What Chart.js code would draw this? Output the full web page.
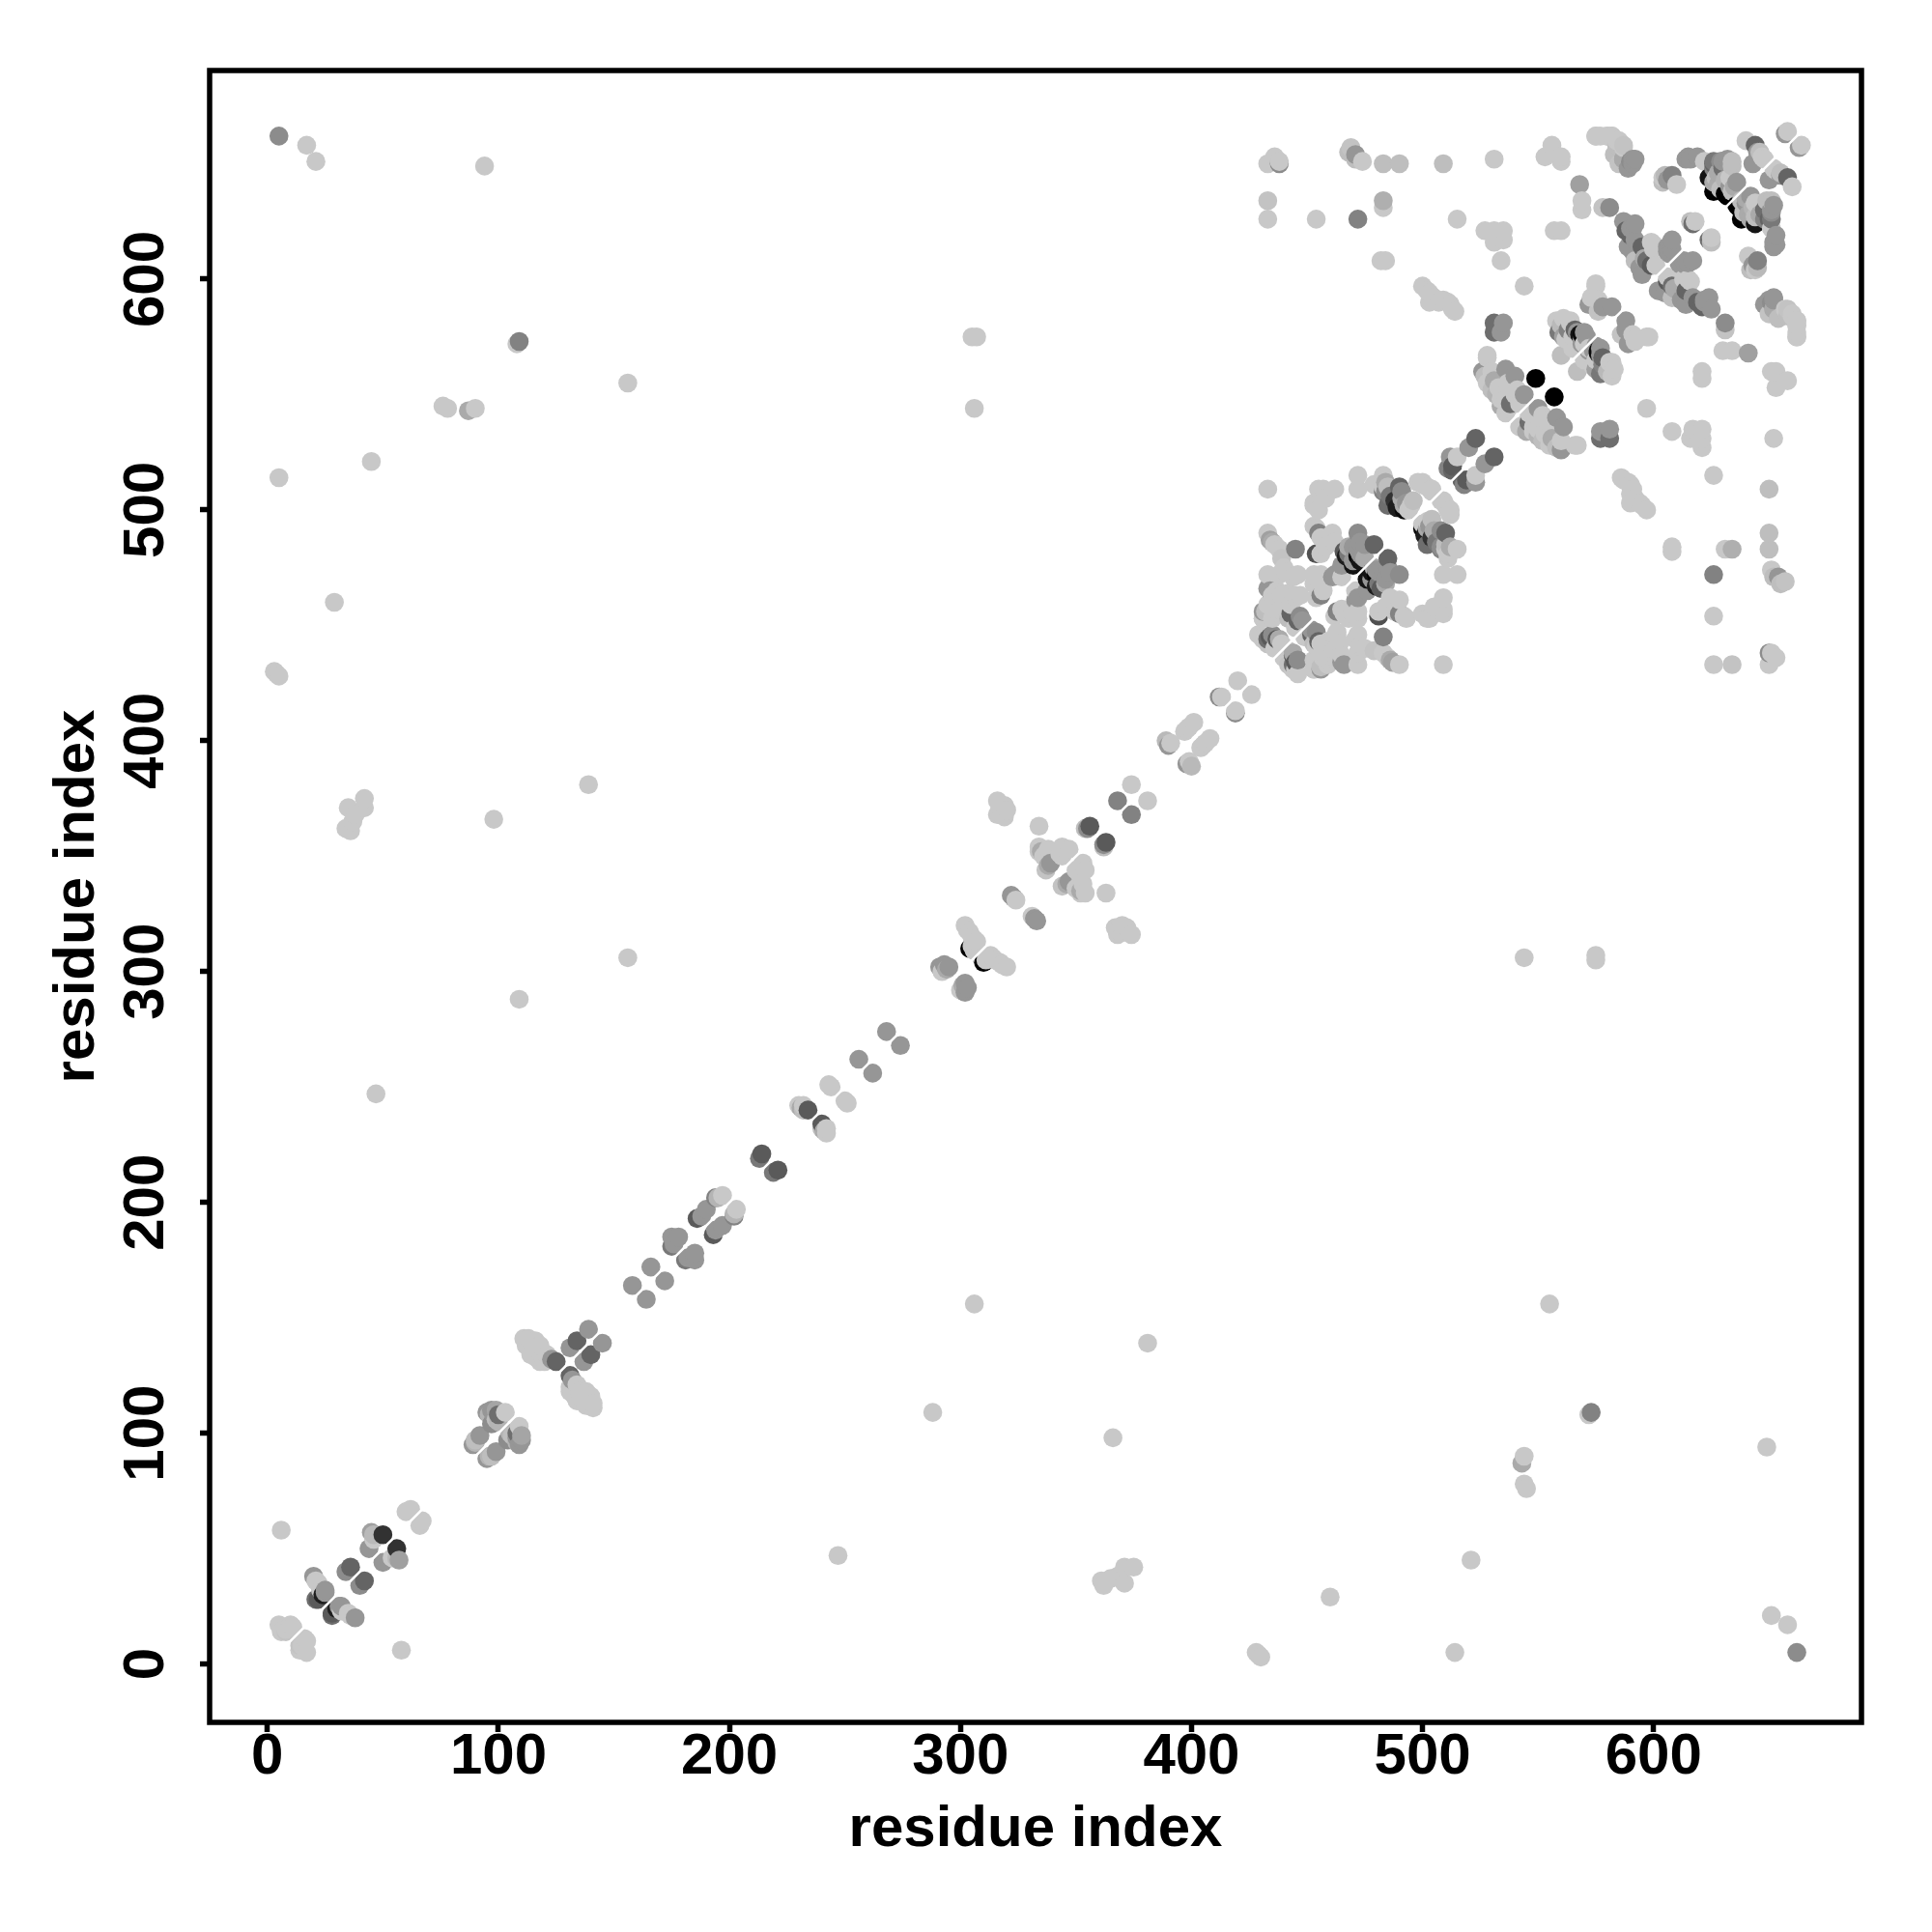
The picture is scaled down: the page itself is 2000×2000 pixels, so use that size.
<!DOCTYPE html>
<html>
<head>
<meta charset="utf-8">
<title>residue contact map</title>
<script src="https://cdn.jsdelivr.net/npm/chart.js@4"></script>
<style>
  html, body { margin: 0; padding: 0; background: #fff; }
  #map-wrap { width: 2000px; height: 2000px; }
</style>
</head>
<body>
<div id="map-wrap"><canvas id="map" width="2000" height="2000"></canvas></div>
<script>
// Contacts, as [residue i, residue j, grey level], i < j.
// The map is symmetric, so only one triangle is listed.
const tickValues = [0, 100, 200, 300, 400, 500, 600];
const axisTitle = 'residue index';

const helixStart = [[5,17,200],[6,14,200],[8,14,195],[11,16,200],[10,17,200],[8,15,200],
  [20,38,150],[21,36,200],[22,35,200],[23,32,200],[21,28,110],[22,28,90],[24,30,30],[25,31,150],[25,32,150],
  [34,40,140],[36,42,100],[44,50,150],[45,57,160],[46,54,200],[46,56,185],[50,56,50],[60,66,200],[62,67,200]];
const helixB = [[89,95,150],[90,96,180],[90,97,190],[92,99,150],[95,109,150],[96,108,180],[97,110,150],[97,104,140],
  [99,106,190],[98,108,150],[99,110,165],[100,105,180],[100,108,110],[103,109,200]];
const helixC = [[111,141,200],[113,141,200],[112,138,200],[116,140,200],[118,138,200],[115,136,200],[114,134,200],
  [116,133,200],[118,135,200],[118,131,200],[120,131,200],[121,134,200],[123,132,150],[125,131,100],
  [131,137,150],[134,140,100],[139,145,150]];
const helixD = [[158,164,150],[166,172,150],[175,181,120],[175,185,150],[176,182,150],[178,185,150],
  [186,193,90],[188,194,150],[190,197,150],[194,202,130],[195,202,180],[197,203,200],
  [213,219,120],[214,221,90],[230,242,200],[231,241,170],[232,240,190],[232,242,200],[234,240,90],
  [244,250,200],[243,251,200],[256,262,150],[268,274,150]];
const helixE = [[291,302,150],[292,300,200],[293,303,150],[294,301,170],[295,302,150],
  [304,310,0],[305,311,200],[306,309,200],[302,320,200],[303,318,200],[304,317,200],[305,315,200],[306,314,200],[307,313,200],
  [322,333,150],[323,332,150],[324,331,200]];
const helixF = [[334,363,200],[334,354,200],[334,352,200],[335,352,170],[336,350,200],[337,351,200],[337,344,195],
  [338,346,170],[338,353,200],[339,347,150],[343,351,200],[344,350,200],[344,354,200],[347,353,200],
  [354,362,190],[355,362,140],[356,363,90],[368,374,130],[374,381,200],
  [389,400,185],[390,398,150],[391,399,200],[397,404,200],[398,405,200],[399,406,200],[401,408,200],
  [412,419,140],[413,419,200],[420,426,200]];
const sideBlock = [[316,374,200],[319,372,200],[316,368,200],[319,367,200],[317,370,200],[320,370,200],[318,368,200]];

const domainLow = [[429,446,200],[431,444,200],[431,453,200],[433,444,110],[434,445,90],[438,444,170],
  [431,456,150],[433,459,200],[433,466,150],[435,463,200],[435,453,200],[436,457,200],[438,461,200],[440,455,200],
  [441,462,200],[445,463,200],[442,453,190],[443,455,100],[447,454,140],
  [433,472,200],[438,472,200],[441,473,200],[440,475,200],[444,471,200],[446,472,200],
  [437,458,200],[439,459,200],[441,457,200],[443,459,200],[438,455,200],[435,459,200],[445,462,200],[447,463,200],
  [440,460,200],[437,465,200],[439,463,200]];
const domainLowB = [[431,453,200],[432,456,190],[434,465,150],[436,461,200],[442,456,200],[442,461,200],[442,464,200]];
const domainCore = [[436,440,200],[433,442,195],[431,445,200],[437,444,90],[435,446,140],[439,442,200],
  [445,449,200],[446,452,100],[448,452,150],[441,454,200]];
const domainRows = [[433,490,200],[434,487,160],[435,486,170],[436,485,200],[438,483,200],[439,479,195],[445,483,130],
  [453,493,200],[455,490,130],[454,492,200],[454,481,80],[456,481,200],[456,488,200],[458,484,200],[461,490,200],[462,486,200],
  [453,472,200],[456,472,200],[455,470,200],[453,468,200],[455,466,200],[457,465,200],[454,462,200],[456,463,130],
  [461,471,150],[462,472,150],[465,471,200],[465,476,150]];
const domainTop = [[433,509,200],[455,509,200],[457,509,200],[462,509,200],[472,509,200],[472,515,200],[453,503,200],
  [455,500,200],[458,505,200],[453,502,200]];
const domainNear = [[466,482,90],[467,480,30],[468,481,120],[468,484,170],[470,484,150],[470,478,150],[470,476,20],
  [472,480,0],[472,490,140],[472,483,150],[473,486,150],[473,481,150],[473,478,20],[474,480,150],[475,479,170],[475,485,150],[479,485,100]];
const strandPair = [[483,515,200],[481,511,200],[479,511,200],[484,512,170],[485,510,190],[483,510,200],[483,508,130],
  [484,508,140],[486,506,120],[485,502,110],[488,504,50],[489,501,30],[490,510,100],[491,508,140],[491,505,170],
  [492,500,10],[492,502,170],[493,503,150],[494,500,200],[495,502,200],[496,504,190],
  [498,512,200],[500,511,200],[500,512,200],[502,510,200],[504,509,200],[504,508,200]];
const hairpin = [[511,518,130],[512,523,150],[513,519,90],[513,517,100],[515,523,200],[520,527,150],[523,531,100]];

const siteG = [[526,560,150],[527,558,190],[528,555,200],[528,567,200],[530,552,190],[530,560,200],[531,556,170],
  [532,550,180],[533,553,200],[534,548,200],[534,545,170],[535,550,200],[536,561,150],[536,548,200],[536,542,200],
  [537,544,200],[537,555,200],[538,546,110],[539,554,200],[540,558,150],[540,550,200],[541,552,200],[542,546,200],
  [544,550,150],[549,557,0]];
const siteH = [[558,582,200],[559,577,120],[560,580,185],[560,567,190],[561,583,200],[561,575,160],[562,574,200],
  [564,582,200],[564,581,200],[563,578,130],[565,575,200],[565,570,200],[566,578,100],[567,577,150],[568,576,20],
  [568,572,200],[569,574,150],[569,576,10],[569,572,150],[570,572,200],[570,577,150],[571,575,150]];
const siteI = [[572,589,150],[573,592,200],[574,592,200],[575,598,200],[575,597,200],[576,591,200],[576,586,195],
  [578,588,150],[582,588,150]];
const strandJ = [[587,625,150],[588,621,100],[589,614,150],[590,622,150],[590,619,100],[591,622,150],[591,612,150],
  [592,624,150],[592,617,150],[592,608,190],[594,605,150],[595,602,150],[595,614,100],[596,609,170],[597,608,110],
  [599,606,90],[600,613,200],[599,616,200],[600,615,200],[601,606,200],
  [606,612,150],[606,614,150],[607,615,150],[608,617,150],[607,611,150],[608,613,150],
  [616,625,190],[617,624,110],[618,625,200]];
const strandK = [[604,644,200],[604,642,190],[605,645,185],[606,643,150],[608,645,130],[610,641,200]];
const cornerL = [[614,652,150],[615,653,150],[616,652,150],[619,653,150],[622,651,200],[624,644,20],[626,642,170],[626,651,120],
  [626,650,100],[626,648,130],[626,638,0],[627,644,190],[628,646,170],[628,641,170],[629,651,140],[629,639,190],[630,651,150],[630,648,110],
  [631,637,0],[631,643,180],[632,636,0],[632,652,150],[633,644,200],[633,640,150],[634,651,190],[634,649,190],[634,638,190],[635,640,170],[636,642,150]];
const cornerM = [[640,660,200],[643,650,150],[644,658,100],[645,655,150],[646,655,190],[647,653,200],[648,652,200],[657,663,150],[658,664,200]];

const farPairs = [[5,662,140],[17,658,200],[21,651,200],[94,649,200],[108,572,200],[109,573,130],[305,575,200],[307,575,200],
  [306,544,200],[156,555,200],[76,545,200],[78,544,200],[87,543,170],[90,544,200],[5,514,200],[45,521,200],[29,460,200],
  [3,430,200],[4,429,200],[5,428,200],[34,362,200],[36,361,200],[35,371,200],[38,368,200],[42,375,200],[42,371,200],[37,365,200],
  [139,381,200],[98,366,200],[156,306,200],[109,288,200],[47,247,200],[6,58,200]];
const offDomain = [[433,650,200],[436,653,200],[438,651,200],[438,650,140],[469,657,195],[468,655,190],[471,654,150],[471,652,190],
  [474,651,200],[483,650,190],[490,650,190],[509,650,190],[531,652,200],[433,634,195],[433,626,200],[454,626,200],[472,626,130],
  [483,634,175],[483,631,200],[515,626,200],[482,608,200],[484,608,200],[527,621,200],[531,621,200],[535,621,200],[531,616,200],
  [535,617,200],[534,608,200],[544,597,200],[528,566,200],
  [500,597,200],[502,595,200],[503,594,200],[503,590,200],[505,592,200],[507,590,200],[509,591,200],[511,590,200],[512,589,200],[513,587,200],[514,586,200],
  [531,581,110],[535,581,150],[531,577,110],[534,577,150],
  [553,653,200],[556,658,200],[560,653,200],[560,651,200],[557,621,200],[560,621,200],
  [569,634,200],[569,630,200],[568,641,160],[581,631,140],[578,631,195],
  [575,662,200],[580,662,200],[582,662,200],[584,660,200],[587,658,195],[583,654,190],[585,650,195],[587,652,170],[591,652,150],[592,652,150],
  [650,591,150],[648,589,150],[651,590,140],[652,587,170],[657,587,200],[658,584,190],[660,585,200],[662,582,200],[662,580,200],[662,577,200],[662,575,200]];

const clusters = [helixStart, helixB, helixC, helixD, helixE, helixF, sideBlock, domainLow, domainLowB, domainCore, domainRows,
  domainTop, domainNear, strandPair, hairpin, siteG, siteH, siteI, strandJ, strandK, cornerL, cornerM, farPairs, offDomain];

// both triangles, drawn left to right so later columns sit on top
const contacts = [];
clusters.forEach((cluster) => {
  cluster.forEach(([i, j, grey]) => {
    contacts.push({ x: i, y: j, grey: grey });
    contacts.push({ x: j, y: i, grey: grey });
  });
});
contacts.sort((a, b) => a.x - b.x || a.y - b.y);

// Box round the plot area
const framePlugin = {
  id: 'frame',
  afterDraw(chart) {
    const { ctx, chartArea: a } = chart;
    ctx.save();
    ctx.strokeStyle = '#000';
    ctx.lineWidth = 5.5;
    ctx.strokeRect(a.left, a.top, a.right - a.left, a.bottom - a.top);
    ctx.restore();
  },
};

const tickFont = { family: '"Liberation Sans"', size: 60, weight: 'bold' };

new Chart(document.getElementById('map'), {
  type: 'scatter',
  data: {
    datasets: [
      {
        data: contacts,
        backgroundColor: contacts.map((c) => `rgb(${c.grey},${c.grey},${c.grey})`),
        borderWidth: 0,
        pointRadius: 9.8,
        order: 2,
      },
      {
        type: 'line',
        data: [{ x: 0, y: 0 }, { x: 664, y: 664 }],
        borderColor: '#fff',
        borderWidth: 2.5,
        pointRadius: 0,
        order: 1,
      },
    ],
  },
  options: {
    responsive: false,
    animation: false,
    devicePixelRatio: 1,
    layout: { padding: { top: 73, right: 73, left: 0, bottom: 0 } },
    plugins: { legend: { display: false }, tooltip: { enabled: false } },
    scales: {
      x: {
        type: 'linear',
        min: -25,
        max: 690,
        afterFit(scale) { scale.height = 217; },
        afterBuildTicks(scale) { scale.ticks = tickValues.map((v) => ({ value: v })); },
        grid: { drawOnChartArea: false, drawTicks: true, tickLength: 10, tickWidth: 5.5, tickColor: '#000' },
        border: { display: false },
        ticks: { color: '#000', font: tickFont, padding: -10, maxRotation: 0, minRotation: 0 },
        title: { display: true, text: axisTitle, color: '#000', font: tickFont, padding: { top: 0, bottom: 70 } },
      },
      y: {
        type: 'linear',
        min: -25.3,
        max: 690.4,
        afterFit(scale) { scale.width = 217; },
        afterBuildTicks(scale) { scale.ticks = tickValues.map((v) => ({ value: v })); },
        grid: { drawOnChartArea: false, drawTicks: true, tickLength: 10, tickWidth: 5.5, tickColor: '#000' },
        border: { display: false },
        ticks: { color: '#000', font: tickFont, padding: 4, minRotation: 90, maxRotation: 90, crossAlign: 'center' },
        title: { display: true, text: axisTitle, color: '#000', font: tickFont, padding: { top: 44, bottom: 0 } },
      },
    },
  },
  plugins: [framePlugin],
});
</script>
</body>
</html>
